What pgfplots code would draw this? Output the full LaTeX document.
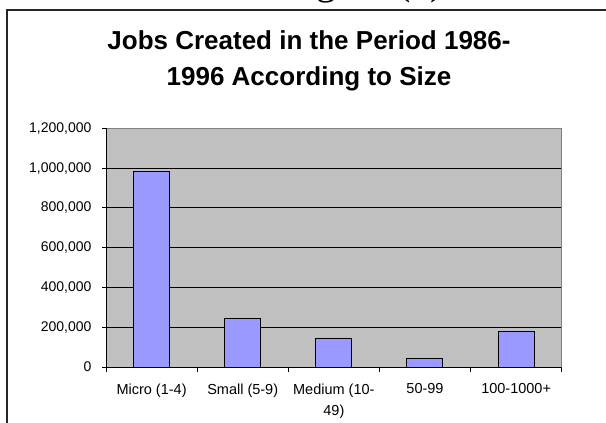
\documentclass[border=0pt]{standalone}
\usepackage{fontspec}
\setmainfont{Liberation Sans}
\newfontfamily\seriffont{Liberation Serif}
\usepackage{pgfplots}
\pgfplotsset{compat=1.18}
\definecolor{plotbg}{HTML}{C0C0C0}
\definecolor{barfill}{HTML}{9999FF}
\definecolor{plotframe}{HTML}{808080}
\begin{document}
\begin{tikzpicture}[x=1bp,y=1bp]
\useasboundingbox (0,0) rectangle (606,422);
\fill[white] (0,0) rectangle (606,422);
\node[anchor=base west, inner sep=0, font=\seriffont\fontsize{40bp}{48bp}\selectfont] at (283,427) {Figure (1)};
\draw[line width=1.5bp, black!85] (7,-2) -- (7,412) -- (610,412);
\node[anchor=base, inner sep=0, font=\bfseries\fontsize{26bp}{30bp}\selectfont] at (309,373) {Jobs Created in the Period 1986-};
\node[anchor=base, inner sep=0, font=\bfseries\fontsize{26bp}{30bp}\selectfont] at (309,337) {1996 According to Size};
\begin{axis}[
  at={(106bp,55bp)}, anchor=south west,
  scale only axis, width=455.7bp, height=238.7bp,
  xmin=-0.5, xmax=4.5, ymin=0, ymax=1200000,
  ytick={0,200000,400000,600000,800000,1000000,1200000},
  scaled y ticks=false,
  /pgf/number format/assume math mode=true,
  yticklabel style={/pgf/number format/fixed, /pgf/number format/1000 sep={,}, font=\fontsize{14bp}{16bp}\selectfont, xshift=-7bp},
  xtick={0,1,2,3,4},
  xticklabels={Micro (1-4),Small (5-9),{Medium (10-\\49)},50-99,100-1000+},
  xticklabel style={align=center, font=\fontsize{14.5bp}{21bp}\selectfont, yshift=-9bp},
  minor xtick={-0.5,0.5,1.5,2.5,3.5,4.5},
  tick align=outside,
  xtick pos=bottom, ytick pos=left,
  major tick length=4bp, minor tick length=5bp,
  major x tick style={draw=none},
  minor x tick style={black, line width=0.8bp},
  major y tick style={black, line width=0.8bp},
  ymajorgrids,
  major grid style={black, line width=0.8bp},
  axis line style={plotframe, line width=1bp},
  axis background/.style={fill=plotbg},
  ybar, bar width=36bp,
]
\addplot[fill=barfill, draw=black, line width=1bp] coordinates {(0,981000) (1,245000) (2,144000) (3,44000) (4,181000)};
\draw[black, line width=1bp] (rel axis cs:0,0) -- (rel axis cs:1,0);
\draw[black, line width=1bp] (rel axis cs:0,0) -- (rel axis cs:0,1);
\end{axis}
\end{tikzpicture}
\end{document}
